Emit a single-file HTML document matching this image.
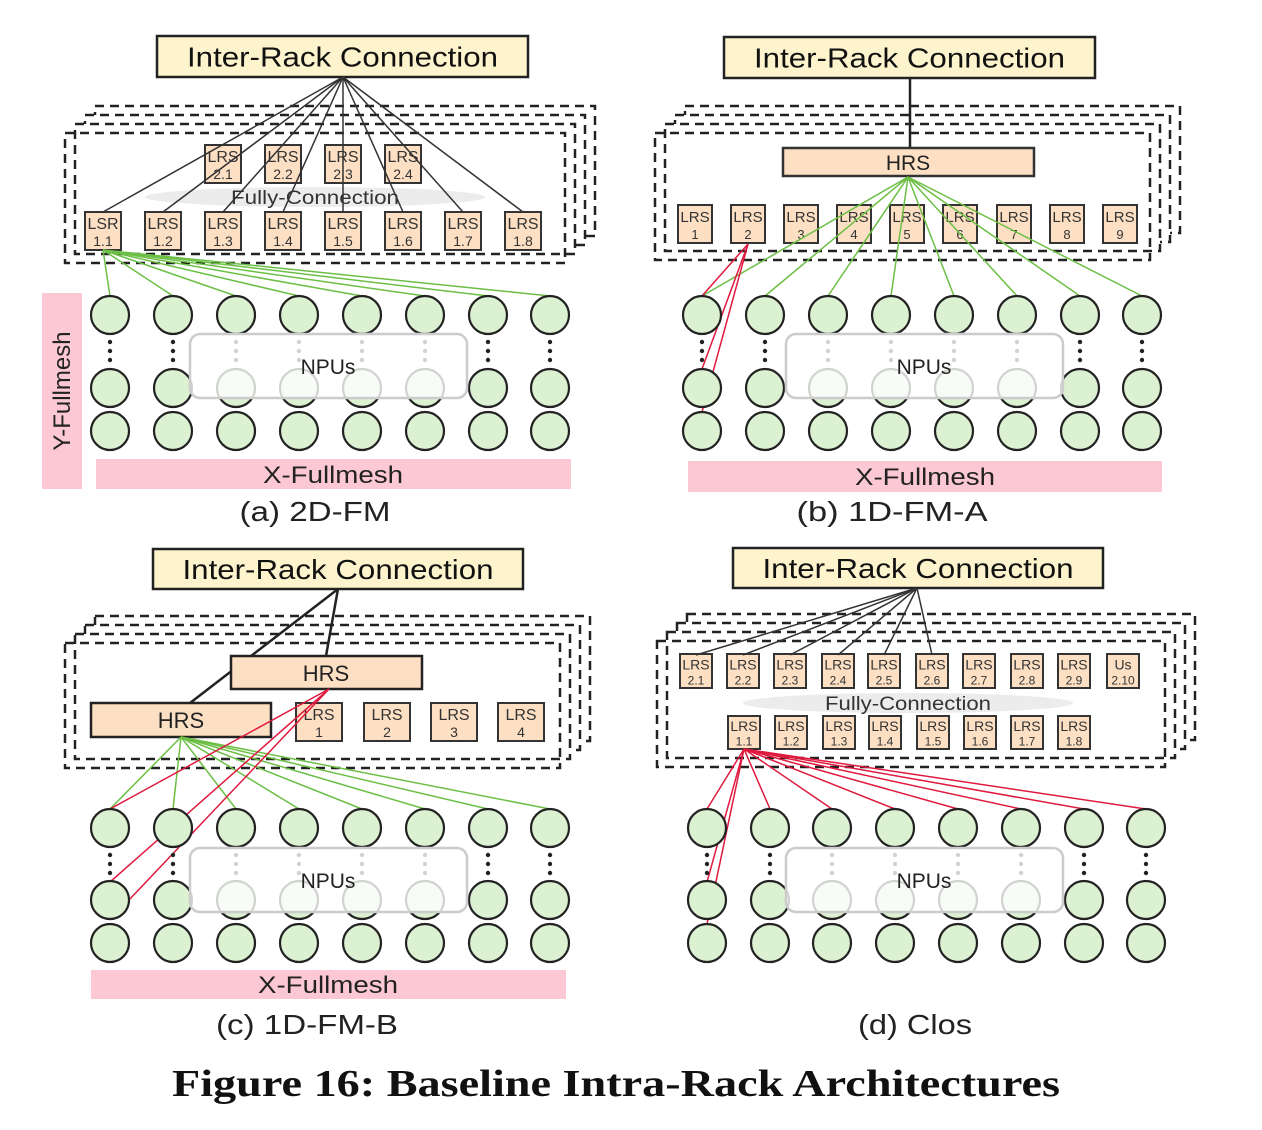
<!DOCTYPE html>
<html><head><meta charset="utf-8"><style>
body{margin:0;background:#fff;}
svg{display:block;font-family:"Liberation Sans","DejaVu Sans",sans-serif;}
</style></head><body>
<svg id="s" width="1262" height="1130" viewBox="0 0 1262 1130" xmlns="http://www.w3.org/2000/svg">
<g id="g"></g>
<text x="616" y="1096" font-family="Liberation Serif,serif" font-weight="bold" font-size="38" text-anchor="middle" fill="#111" textLength="888" lengthAdjust="spacingAndGlyphs">Figure 16: Baseline Intra-Rack Architectures</text>
<text x="315" y="521" font-size="28" text-anchor="middle" fill="#222" textLength="151" lengthAdjust="spacingAndGlyphs">(a) 2D-FM</text>
<text x="892" y="521" font-size="28" text-anchor="middle" fill="#222" textLength="191" lengthAdjust="spacingAndGlyphs">(b) 1D-FM-A</text>
<text x="307" y="1034" font-size="28" text-anchor="middle" fill="#222" textLength="182" lengthAdjust="spacingAndGlyphs">(c) 1D-FM-B</text>
<text x="915" y="1034" font-size="28" text-anchor="middle" fill="#222" textLength="114" lengthAdjust="spacingAndGlyphs">(d) Clos</text>
</svg>
<script>
const g=document.getElementById('g');let h='';
function R(x,y,w,hh,f,s,sw,ex){h+=`<rect x="${x}" y="${y}" width="${w}" height="${hh}" fill="${f}" stroke="${s}" stroke-width="${sw}" ${ex||''}/>`;}
function L(x1,y1,x2,y2,c,w){h+=`<line x1="${x1}" y1="${y1}" x2="${x2}" y2="${y2}" stroke="${c}" stroke-width="${w}"/>`;}
function T(x,y,t,sz,c,ex){h+=`<text x="${x}" y="${y}" font-size="${sz}" fill="${c||'#222'}" text-anchor="middle" ${ex||''}>${t}</text>`;}
function IR(x,y,w,hh){R(x,y,w,hh,'#fdf3cc','#222',2.5);T(x+w/2,y+hh/2+10,'Inter-Rack Connection',28,'#111','textLength="311" lengthAdjust="spacingAndGlyphs"');}
function stack(x,y,w,hh){for(let i=3;i>=0;i--){R(x+i*10,y-i*9,w,hh,i==0?'none':'#fff','#222',2.5,'stroke-dasharray="9 6"');}}
function box(cx,y,w,hh,a,b,fs){R(cx-w/2,y,w,hh,'#fde0c4','#333',2);T(cx,y+hh*0.45,a,fs,'#333');T(cx,y+hh*0.9,b,fs-2,'#333');}
function npus(cols,rows,nx,ny){rows.forEach(y=>cols.forEach(x=>{h+=`<circle cx="${x}" cy="${y}" r="19" fill="#dcf1d2" stroke="#222" stroke-width="2.2"/>`;}));
 cols.forEach(x=>{for(let k=0;k<3;k++)h+=`<circle cx="${x}" cy="${rows[0]+27+k*9}" r="2.2" fill="#222"/>`;});
 R(nx,ny,277,64,'rgba(255,255,255,0.8)','#ccc',2.5,'rx="10"');T(nx+138,ny+40,'NPUs',21,'#222');}
function ell(cx,cy,rx){h+=`<ellipse cx="${cx}" cy="${cy}" rx="${rx}" ry="10" fill="#ececec"/>`;}
const pink='#fcc8d4';
const FC='textLength="168" lengthAdjust="spacingAndGlyphs"';
const XF='textLength="140" lengthAdjust="spacingAndGlyphs"';
// (a)
let ca=[110,173,236,299,362,425,488,550];
IR(157,36,371,41);stack(65,133,500,130);
ell(315,197,170);
[223,283,343,403].forEach((x,i)=>box(x,145,36,38,'LRS','2.'+(i+1),16));
T(315,204,'Fully-Connection',19,'#333',FC);
[103,163,223,283,343,403,463,523].forEach((x,i)=>box(x,212,36,38,i?'LRS':'LSR','1.'+(i+1),16));
[103,163,223,283,343,403,463,523].forEach(x=>L(343,77,x,212,'#333',1.5));
ca.forEach(x=>L(103,250,x,296,'#6cbf45',1.5));
npus(ca,[315,388,431],190,334);
R(42,293,40,196,pink,'none',0);h+=`<text x="62" y="391" font-size="24" fill="#222" text-anchor="middle" transform="rotate(-90 62 391)" dy="8">Y-Fullmesh</text>`;
R(96,459,475,30,pink,'none',0);T(333,483,'X-Fullmesh',24,'#222',XF);
// (b)
let cb=[702,765,828,891,954,1017,1080,1142];
IR(724,37,371,41);stack(655,133,495,127);L(910,78,910,148,'#222',2.5);
R(783,148,251,28,'#fde0c4','#333',2.5);T(908,170,'HRS',21,'#222');
[695,748,801,854,907,960,1014,1067,1120].forEach((x,i)=>box(x,205,34,38,'LRS',''+(i+1),15));
cb.forEach(x=>L(908,177,x,296,'#6cbf45',1.5));
[296,369,412].forEach(y=>L(748,244,702,y,'#e0193f',1.5));
npus(cb,[315,388,431],786,334);
R(688,461,474,31,pink,'none',0);T(925,485,'X-Fullmesh',24,'#222',XF);
// (c)
let cc=ca;
IR(153,549,370,40);stack(65,643,495,125);
L(338,589,326,656,'#222',2.5);L(338,589,190,703,'#222',2.5);
R(231,656,191,33,'#fde0c4','#222',2.5);T(326,681,'HRS',22,'#222');
R(91,703,180,34,'#fde0c4','#222',2.5);T(181,728,'HRS',22,'#222');
[319,387,454,521].forEach((x,i)=>box(x,703,46,38,'LRS',''+(i+1),16));
cc.forEach(x=>L(181,737,x,809,'#6cbf45',1.5));
[[110,809],[110,882],[110,920]].forEach(p=>L(329,689,p[0],p[1],'#e0193f',1.5));
npus(cc,[828,900,943],190,848);
R(91,970,475,29,pink,'none',0);T(328,993,'X-Fullmesh',24,'#222',XF);
// (d)
let cd=[707,770,832,895,958,1021,1084,1146];
IR(733,548,370,40);stack(657,641,508,126);
ell(908,703,165);
[696,743,790,838,884,932,979,1027,1074,1123].forEach((x,i)=>box(x,654,32,34,i==9?'Us':'LRS','2.'+(i+1),14));
[696,743,790,838,884,932].forEach(x=>L(917,588,x,655,'#333',1.5));
T(908,710,'Fully-Connection',19,'#333','textLength="166" lengthAdjust="spacingAndGlyphs"');
[744,791,839,885,933,980,1027,1074].forEach((x,i)=>box(x,716,32,33,'LRS','1.'+(i+1),14));
cd.forEach(x=>L(744,749,x,809,'#e0193f',1.5));
[[707,882],[707,924]].forEach(p=>L(744,749,p[0],p[1],'#e0193f',1.5));
npus(cd,[828,900,943],786,848);
g.innerHTML=h;
</script>
</body></html>
